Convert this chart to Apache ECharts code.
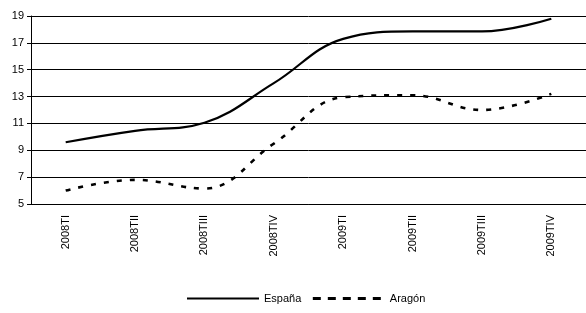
<!DOCTYPE html>
<html>
<head>
<meta charset="utf-8">
<script src="https://cdn.jsdelivr.net/npm/echarts@6/dist/echarts.min.js"></script>
<style>
  html, body { margin: 0; padding: 0; background: #fff; }
  #chart { width: 586px; height: 313px; }
</style>
</head>
<body>
<div id="chart"></div>
<script>
// quarters on the x axis
const categories = ['2008TI', '2008TII', '2008TIII', '2008TIV', '2009TI', '2009TII', '2009TIII', '2009TIV'];
const espana = [9.6, 10.45, 11.05, 14.0, 17.3, 17.85, 17.85, 18.8];
const aragon = [6.0, 6.8, 6.15, 9.5, 12.95, 13.1, 12.0, 13.2];
const yTicks = { min: 5, max: 19, step: 2 };

const font = 'Liberation Sans, Arial, sans-serif';
const chart = echarts.init(document.getElementById('chart'));

chart.setOption({
    animation: false,
    grid: { left: 31, top: 16, width: 562, height: 188 },
    legend: {
        left: 186, top: 293, padding: 0,
        itemWidth: 72, itemHeight: 10, itemGap: 10,
        itemStyle: { opacity: 0 },
        textStyle: { fontFamily: font, fontSize: 11, color: '#000' },
        data: [
            { name: 'España' },
            { name: 'Aragón', lineStyle: { width: 3, type: [8, 7] } }
        ]
    },
    xAxis: {
        type: 'category',
        data: categories,
        boundaryGap: true,
        axisLine: { lineStyle: { color: '#000', width: 1 } },
        axisTick: { length: 4, lineStyle: { color: '#000' } },
        axisLabel: { rotate: 90, color: '#000', fontFamily: font, fontSize: 11, margin: 11 }
    },
    yAxis: {
        type: 'value',
        min: yTicks.min, max: yTicks.max, interval: yTicks.step,
        axisLine: { show: true, lineStyle: { color: '#000', width: 1 } },
        axisTick: { show: true, length: 4, lineStyle: { color: '#000' } },
        axisLabel: { color: '#000', fontFamily: font, fontSize: 11, margin: 7 },
        splitLine: { lineStyle: { color: '#000', width: 1 } }
    },
    series: [
        {
            name: 'España', type: 'line', data: espana, smooth: 0.4,
            symbol: 'none',
            lineStyle: { color: '#000', width: 2.2 },
            itemStyle: { color: '#000' }
        },
        {
            name: 'Aragón', type: 'line', data: aragon, smooth: 0.4,
            symbol: 'none',
            lineStyle: { color: '#000', width: 2.6, type: [5, 8] },
            itemStyle: { color: '#000' }
        }
    ]
});
</script>
</body>
</html>
